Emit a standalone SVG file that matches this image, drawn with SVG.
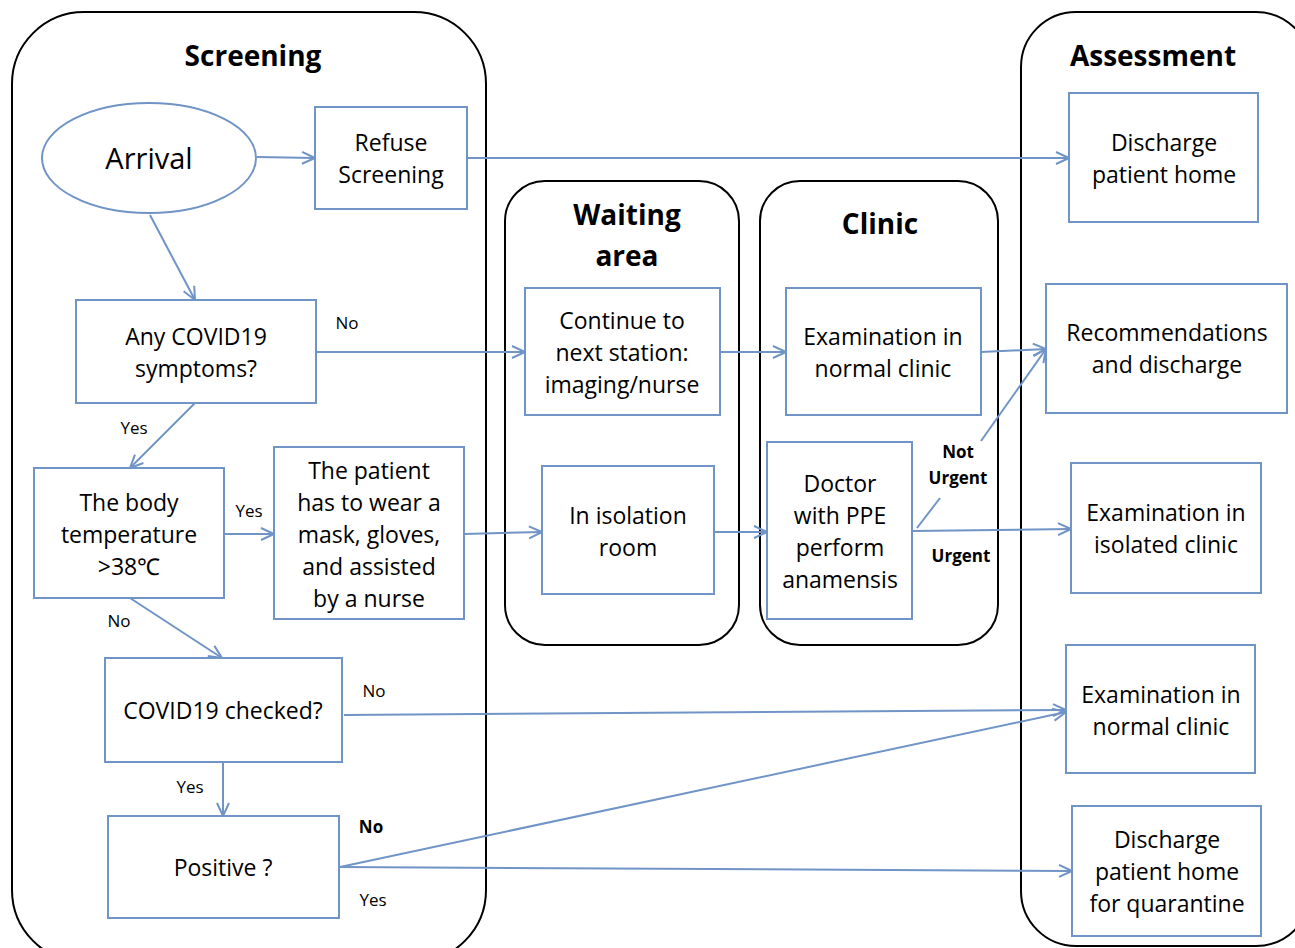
<svg xmlns="http://www.w3.org/2000/svg" width="1295" height="948" viewBox="0 0 1295 948">
<style>
.bg{fill:#ffffff}
.cont{fill:none;stroke:#000;stroke-width:2}
.box{fill:#fff;stroke:#7094c6;stroke-width:2}
.ln{fill:none;stroke:#7094c6;stroke-width:2}
.arr{marker-end:url(#ah)}
text{font-family:"Open Sans","Liberation Sans",sans-serif;fill:#000}
.t{font-size:23px;text-anchor:middle}
.big{font-size:29px;text-anchor:middle}
.title{font-size:28px;font-weight:bold;text-anchor:middle}
.lab{font-size:17px;text-anchor:middle}
.labb{font-size:17px;font-weight:bold;text-anchor:middle}
</style>
<defs>
<marker id="ah" markerUnits="userSpaceOnUse" markerWidth="16" markerHeight="16" refX="14" refY="7" orient="auto" viewBox="0 0 16 14">
<path d="M1,1 L14,7 L1,13" fill="none" stroke="#7094c6" stroke-width="2"/>
</marker>
</defs>
<rect class="bg" x="0" y="0" width="1295" height="948"/>

<g id="containers">
<g id="screening"><rect class="cont" x="12" y="12" width="474" height="950" rx="72"/><text class="title" x="253" y="66">Screening</text></g>
<g id="waiting"><rect class="cont" x="505" y="181" width="234" height="464" rx="40"/><text class="title" x="627" y="225">Waiting</text><text class="title" x="627" y="266">area</text></g>
<g id="clinic"><rect class="cont" x="760" y="181" width="238" height="464" rx="40"/><text class="title" x="880" y="234">Clinic</text></g>
<g id="assessment"><rect class="cont" x="1021" y="12" width="290" height="934" rx="55"/><text class="title" x="1153" y="66">Assessment</text></g>
</g>

<g id="connectors">
<line class="ln arr" x1="257" y1="157" x2="315" y2="158"/>
<line class="ln arr" x1="467" y1="158" x2="1069" y2="158"/>
<line class="ln arr" x1="150" y1="215" x2="195" y2="300"/>
<line class="ln arr" x1="316" y1="352" x2="525" y2="352"/>
<line class="ln arr" x1="720" y1="352" x2="786" y2="352"/>
<line class="ln arr" x1="981" y1="352" x2="1046" y2="349"/>
<line class="ln arr" x1="195" y1="403" x2="130" y2="468"/>
<line class="ln arr" x1="224" y1="534" x2="274" y2="534"/>
<line class="ln arr" x1="464" y1="534" x2="542" y2="532"/>
<line class="ln arr" x1="714" y1="532" x2="767" y2="532"/>
<line class="ln arr" x1="912" y1="531" x2="1071" y2="529"/>
<line class="ln" x1="917" y1="528" x2="940" y2="498"/>
<line class="ln arr" x1="981" y1="441" x2="1046" y2="349"/>
<line class="ln arr" x1="130" y1="598" x2="222" y2="658"/>
<line class="ln arr" x1="344" y1="715" x2="1066" y2="710"/>
<line class="ln arr" x1="223" y1="762" x2="223" y2="816"/>
<line class="ln arr" x1="340" y1="867" x2="1066" y2="712"/>
<line class="ln arr" x1="340" y1="867" x2="1072" y2="871"/>
<text class="lab" x="347" y="329">No</text>
<text class="lab" x="134" y="434">Yes</text>
<text class="lab" x="249" y="517">Yes</text>
<text class="lab" x="119" y="627">No</text>
<text class="lab" x="374" y="697">No</text>
<text class="lab" x="190" y="793">Yes</text>
<text class="labb" x="371" y="833">No</text>
<text class="lab" x="373" y="906">Yes</text>
<text class="labb" x="958" y="458">Not</text>
<text class="labb" x="958" y="484">Urgent</text>
<text class="labb" x="961" y="562">Urgent</text>
</g>

<g id="arrival"><ellipse class="box" cx="149" cy="158" rx="107" ry="55"/><text class="big" x="149" y="169">Arrival</text></g>
<g id="refuse"><rect class="box" x="315" y="107" width="152" height="102"/><text class="t" x="391" y="151">Refuse</text><text class="t" x="391" y="183">Screening</text></g>
<g id="symptoms"><rect class="box" x="76" y="300" width="240" height="103"/><text class="t" x="196" y="345">Any COVID19</text><text class="t" x="196" y="377">symptoms?</text></g>
<g id="temperature"><rect class="box" x="34" y="468" width="190" height="130"/><text class="t" x="129" y="511">The body</text><text class="t" x="129" y="543">temperature</text><text class="t" x="129" y="575">&gt;38℃</text></g>
<g id="mask"><rect class="box" x="274" y="447" width="190" height="172"/><text class="t" x="369" y="479">The patient</text><text class="t" x="369" y="511">has to wear a</text><text class="t" x="369" y="543">mask, gloves,</text><text class="t" x="369" y="575">and assisted</text><text class="t" x="369" y="607">by a nurse</text></g>
<g id="checked"><rect class="box" x="105" y="658" width="237" height="104"/><text class="t" x="223" y="719">COVID19 checked?</text></g>
<g id="positive"><rect class="box" x="108" y="816" width="231" height="102"/><text class="t" x="223" y="876">Positive ?</text></g>
<g id="continue"><rect class="box" x="525" y="288" width="195" height="127"/><text class="t" x="622" y="329">Continue to</text><text class="t" x="622" y="361">next station:</text><text class="t" x="622" y="393">imaging/nurse</text></g>
<g id="isolation"><rect class="box" x="542" y="466" width="172" height="128"/><text class="t" x="628" y="524">In isolation</text><text class="t" x="628" y="556">room</text></g>
<g id="exam-clinic"><rect class="box" x="786" y="288" width="195" height="127"/><text class="t" x="883" y="345">Examination in</text><text class="t" x="883" y="377">normal clinic</text></g>
<g id="doctor"><rect class="box" x="767" y="442" width="145" height="177"/><text class="t" x="840" y="492">Doctor</text><text class="t" x="840" y="524">with PPE</text><text class="t" x="840" y="556">perform</text><text class="t" x="840" y="588">anamensis</text></g>
<g id="discharge"><rect class="box" x="1069" y="93" width="189" height="129"/><text class="t" x="1164" y="151">Discharge</text><text class="t" x="1164" y="183">patient home</text></g>
<g id="recommend"><rect class="box" x="1046" y="284" width="241" height="129"/><text class="t" x="1167" y="341">Recommendations</text><text class="t" x="1167" y="373">and discharge</text></g>
<g id="isolated-clinic"><rect class="box" x="1071" y="463" width="190" height="130"/><text class="t" x="1166" y="521">Examination in</text><text class="t" x="1166" y="553">isolated clinic</text></g>
<g id="normal-clinic"><rect class="box" x="1066" y="645" width="189" height="128"/><text class="t" x="1161" y="703">Examination in</text><text class="t" x="1161" y="735">normal clinic</text></g>
<g id="quarantine"><rect class="box" x="1072" y="806" width="189" height="130"/><text class="t" x="1167" y="848">Discharge</text><text class="t" x="1167" y="880">patient home</text><text class="t" x="1167" y="912">for quarantine</text></g>
</svg>
